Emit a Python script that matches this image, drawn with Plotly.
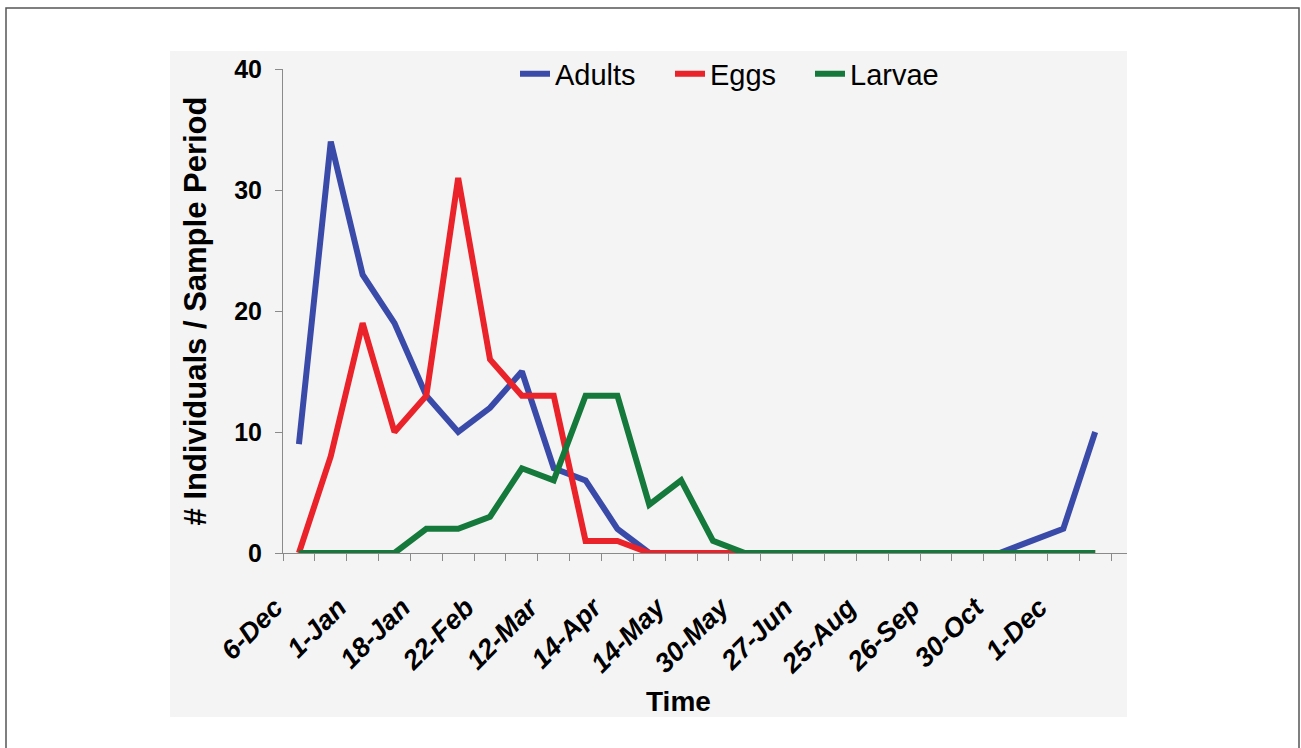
import plotly.graph_objects as go

# ---- data ----
n_periods = 26
tick_labels = ["6-Dec", "1-Jan", "18-Jan", "22-Feb", "12-Mar", "14-Apr", "14-May",
               "30-May", "27-Jun", "25-Aug", "26-Sep", "30-Oct", "1-Dec"]
adults = [9, 34, 23, 19, 13, 10, 12, 15, 7, 6, 2, 0, 0, 0, 0, 0, 0, 0, 0, 0, 0, 0, 0, 1, 2, 10]
eggs   = [0, 8, 19, 10, 13, 31, 16, 13, 13, 1, 1, 0, 0, 0, 0, 0, 0, 0, 0, 0, 0, 0, 0, 0, 0, 0]
larvae = [0, 0, 0, 0, 2, 2, 3, 7, 6, 13, 13, 4, 6, 1, 0, 0, 0, 0, 0, 0, 0, 0, 0, 0, 0, 0]

x = list(range(n_periods))
label_pos = list(range(0, n_periods, 2))[:len(tick_labels)]
boundaries = [i - 0.5 for i in range(n_periods + 1)]

colors = {"Adults": "#3a4aa8", "Eggs": "#ea2229", "Larvae": "#14793a"}
FONT = "Liberation Sans, Arial, sans-serif"

# plot area geometry (pixels)
W, H = 1301, 748
L, R, T, B = 283, 1127, 69, 553
pw, ph = R - L, B - T
slot = 31.85  # pixel width of one sample period


def px(xp):
    return (xp - L) / pw


def py(yp):
    return (B - yp) / ph


series = [("Adults", adults, "legend", 515),
          ("Eggs", eggs, "legend2", 670),
          ("Larvae", larvae, "legend3", 810)]

fig = go.Figure()
for name, ys, leg, _ in series:
    fig.add_trace(go.Scatter(x=x, y=ys, mode="lines", name=name, legend=leg,
                             line=dict(color=colors[name], width=6)))

legend_style = dict(orientation="h", yanchor="middle", xanchor="left",
                    bgcolor="rgba(0,0,0,0)",
                    font=dict(size=29, color="black", family=FONT))
layout_legends = {}
for name, _, leg, xpos in series:
    layout_legends[leg] = dict(legend_style, x=px(xpos), y=py(74))

fig.update_layout(
    width=W, height=H,
    margin=dict(l=L, r=W - R, t=T, b=H - B, pad=0),
    paper_bgcolor="white",
    plot_bgcolor="#f4f4f4",
    font=dict(family=FONT, color="black"),
    showlegend=True,
    shapes=[
        dict(type="rect", xref="paper", yref="paper", layer="below",
             x0=px(170), x1=px(1127), y0=py(717), y1=py(51),
             fillcolor="#f4f4f4", line=dict(width=0)),
        dict(type="rect", xref="paper", yref="paper", layer="below",
             x0=px(6), x1=px(1299), y0=py(770), y1=py(8),
             fillcolor="rgba(0,0,0,0)", line=dict(color="#555555", width=1.5)),
    ],
    annotations=[
        dict(text="<b>Time</b>", xref="paper", yref="paper", x=px(678), y=py(701),
             xanchor="center", yanchor="middle", showarrow=False,
             font=dict(size=28, family=FONT, color="black")),
    ],
    **layout_legends,
)

fig.update_xaxes(
    range=[-0.5, (R - L) / slot - 0.5],
    tickmode="array", tickvals=label_pos,
    ticktext=[f"<b><i>{t}</i></b>" for t in tick_labels],
    tickangle=-45, ticks="", ticklabelstandoff=27, ticklabelshift=-24,
    tickfont=dict(size=27, family=FONT, color="black"),
    showline=True, linecolor="#8a8a8a", linewidth=1,
    showgrid=False, zeroline=False,
    minor=dict(tickmode="array", tickvals=boundaries, ticks="outside",
               ticklen=7, tickcolor="#8a8a8a", tickwidth=1, showgrid=False),
)
fig.update_yaxes(
    range=[0, 40], tickvals=[0, 10, 20, 30, 40],
    ticks="outside", ticklen=7, tickcolor="#8a8a8a", ticklabelstandoff=8,
    tickfont=dict(size=25, family=FONT, weight="bold", color="black"),
    showline=True, linecolor="#8a8a8a", linewidth=1,
    showgrid=False, zeroline=False,
    title=dict(text="<b># Individuals / Sample Period</b>",
               font=dict(size=31, family=FONT, color="black"), standoff=18),
)

fig.write_html("out.html", config={"displayModeBar": False},
               post_script="document.body.style.margin='0px';")
